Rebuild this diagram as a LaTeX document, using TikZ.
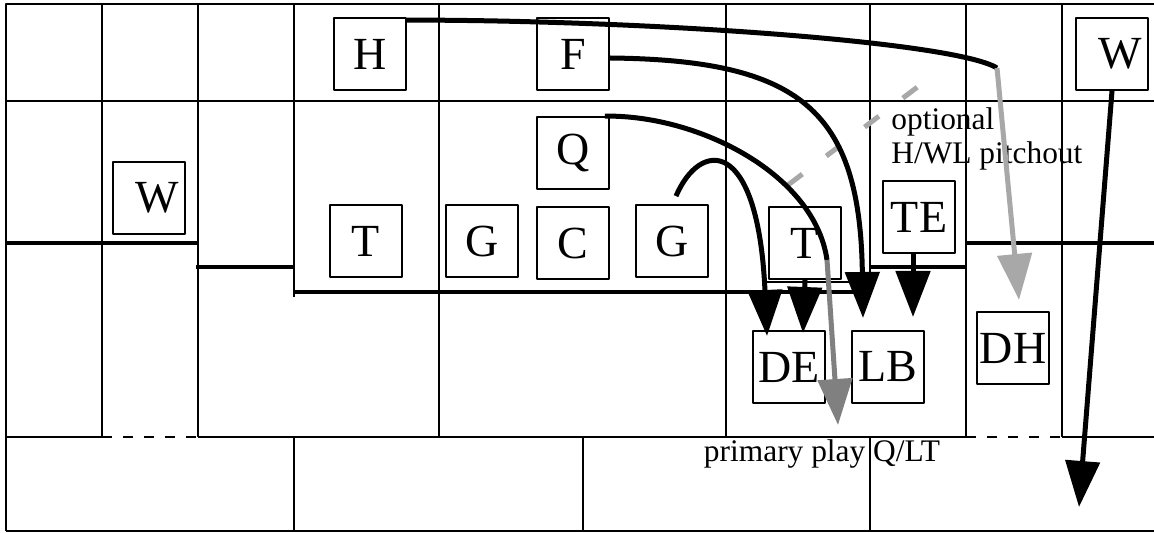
\documentclass[tikz,border=0pt]{standalone}
\usepackage{fontspec}
\setmainfont{Liberation Serif}
\usetikzlibrary{arrows.meta}
\definecolor{lgray}{HTML}{A8A8A8}
\definecolor{mgray}{HTML}{808080}
\tikzset{
	box/.style={draw,line width=0.9pt,minimum width=36pt,minimum height=36pt,inner sep=0pt,font=\fontsize{23}{23}\selectfont},
	grid/.style={line width=1pt},
	scrim/.style={line width=2.4pt},
	route/.style={line width=2.5pt},
	note/.style={inner sep=0pt,font=\fontsize{15.7}{17}\selectfont}
}
\begin{document}
\begin{tikzpicture}[x=0.5pt,y=-0.5pt,line join=round,>={Triangle[width=17pt,length=23pt]}]
	\useasboundingbox (0,0) rectangle (1154,533);
	% field
	\draw[grid] (6,531)--(6,4)--(1154,4) (6,101)--(1154,101) (6,531)--(1154,531)
	(6,437)--(102,437) (198,437)--(966,437) (1062,437)--(1154,437);
	\draw[grid,dash pattern=on 5pt off 5.5pt] (102,437)--(198,437) (966,437)--(1062,437);
	\foreach \x in {102,198,439,726,966,1062}
	\draw[grid] (\x,4)--(\x,437);
	\draw[grid] (294,4)--(294,297) (870,4)--(870,292) (767,282)--(870,282);
	\foreach \x in {294,583,870}
	\draw[grid] (\x,437)--(\x,531);
	% line of scrimmage
	\draw[scrim] (6,243)--(198,243) (196,267)--(294,267) (294,292)--(870,292) (966,243)--(1154,243);
	\draw[line width=1.6pt] (870,267)--(966,267);
	% players
	\node[box] (H) at (370,54) {H};
	\node[box] (F) at (573,54) {F};
	\node[box] (Q) at (573,153) {Q};
	\node[box] (WL) at (149,198) {\hspace{8pt}W};
	\node[box] (WR) at (1112,54) {\hspace{8pt}W};
	\node[box] (TL) at (366,241) {T};
	\node[box] (GL) at (482,241) {G};
	\node[box] (C) at (573,243) {C};
	\node[box] (GR) at (672,241) {G};
	\node[box] (TR) at (805,243) {T};
	\node[box] (TE) at (919,217) {TE};
	\node[box] (DE) at (789,367) {DE};
	\node[box] (LB) at (888,367) {LB};
	\node[box] (DH) at (1013,348) {DH};
	\node[note,anchor=north west,align=left] (opt) at (891,107) {optional\\H/WL pitchout};
	\node[note] (prim) at (822,454) {primary play Q/LT};
	% routes
	\path (997,68) coordinate (hbend) (1019,300) coordinate (htip)
	(863,318) coordinate (ftip)
	(827,260) coordinate (qbend) (838,425) coordinate (qtip)
	(767,336) coordinate (gtip) (803,333) coordinate (trtip)
	(913,317) coordinate (tetip) (1079,507) coordinate (wtip)
	(788,185) coordinate (pa) (940,70) coordinate (pb);
	\draw[route,lgray,dash pattern=on 9pt off 15pt] (pa)--(pb);
	\draw[route] ([yshift=-1.5pt]H.north east) .. controls (650,20) and (955,42) .. (hbend);
	\draw[route,->,lgray] (hbend)--(htip);
	\draw[route,->] ([yshift=-2pt]F.east) .. controls (800,60) and (860,110) .. (ftip);
	\draw[route] ([xshift=-2.5pt]Q.north east) .. controls (700,115) and (815,175) .. (qbend);
	\draw[route,->,mgray] (qbend)--(qtip);
	\draw[route,->] ([xshift=2pt,yshift=4pt]GR.north) .. controls (700,140) and (758,135) .. (gtip);
	\draw[route,->] (TR.south)--(trtip);
	\draw[route,->] ([xshift=-3pt]TE.south)--(tetip);
	\draw[route,->] (WR.south)--(wtip);
\end{tikzpicture}
\end{document}
